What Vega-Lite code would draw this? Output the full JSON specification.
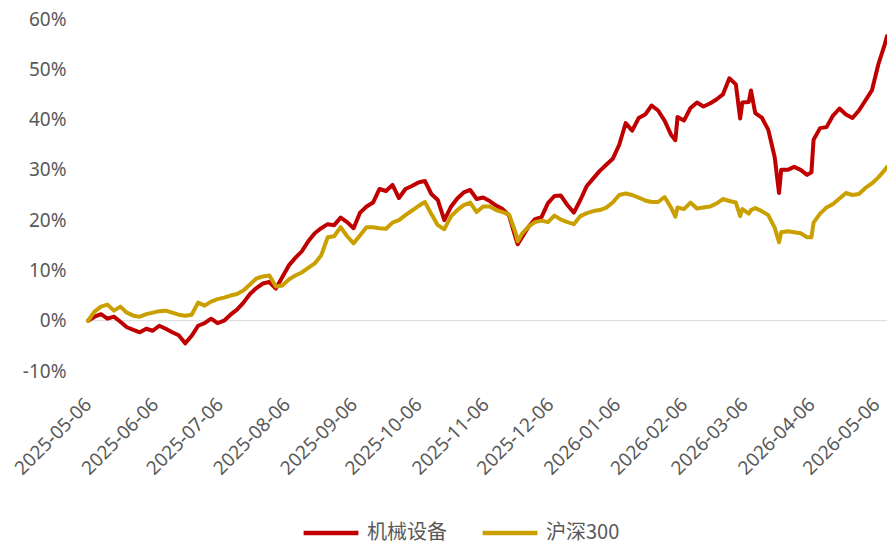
{
  "$schema": "https://vega.github.io/schema/vega-lite/v6.json",
  "width": 799,
  "height": 352,
  "autosize": {"type": "none"},
  "padding": {"left": 88, "top": 19, "right": 0, "bottom": 173},
  "background": "white",
  "config": {"view": {"stroke": null}, "font": "Noto Sans"},
  "data": {"values": [
    {"d":"2025-05-06","机械设备":0,"沪深300":0},
    {"d":"2025-05-09","机械设备":0.8,"沪深300":1.8},
    {"d":"2025-05-12","机械设备":1.3,"沪深300":2.8},
    {"d":"2025-05-15","机械设备":0.4,"沪深300":3.2},
    {"d":"2025-05-18","机械设备":0.8,"沪深300":2.0},
    {"d":"2025-05-21","机械设备":-0.2,"沪深300":2.8},
    {"d":"2025-05-24","机械设备":-1.3,"沪深300":1.6},
    {"d":"2025-05-27","机械设备":-1.8,"沪深300":1.0},
    {"d":"2025-05-30","机械设备":-2.3,"沪深300":0.8},
    {"d":"2025-06-02","机械设备":-1.6,"沪深300":1.3},
    {"d":"2025-06-05","机械设备":-2.0,"沪深300":1.6},
    {"d":"2025-06-08","机械设备":-1.0,"沪深300":1.9},
    {"d":"2025-06-11","机械设备":-1.6,"沪深300":2.0},
    {"d":"2025-06-14","机械设备":-2.3,"沪深300":1.6},
    {"d":"2025-06-17","机械设备":-2.9,"沪深300":1.2},
    {"d":"2025-06-20","机械设备":-4.5,"沪深300":1.0},
    {"d":"2025-06-23","机械设备":-3.0,"沪深300":1.2},
    {"d":"2025-06-26","机械设备":-1.0,"沪深300":3.6},
    {"d":"2025-06-29","机械设备":-0.5,"沪深300":3.0},
    {"d":"2025-07-02","机械设备":0.4,"沪深300":3.8},
    {"d":"2025-07-05","机械设备":-0.5,"沪深300":4.3},
    {"d":"2025-07-08","机械设备":0,"沪深300":4.6},
    {"d":"2025-07-11","机械设备":1.2,"沪深300":5.0},
    {"d":"2025-07-14","机械设备":2.2,"沪深300":5.3},
    {"d":"2025-07-17","机械设备":3.6,"沪深300":6.0},
    {"d":"2025-07-20","机械设备":5.3,"沪深300":7.2},
    {"d":"2025-07-23","机械设备":6.5,"沪深300":8.4},
    {"d":"2025-07-26","机械设备":7.4,"沪深300":8.8},
    {"d":"2025-07-29","机械设备":7.7,"沪深300":9.0},
    {"d":"2025-08-01","机械设备":6.4,"沪深300":6.8},
    {"d":"2025-08-04","机械设备":8.7,"沪深300":7.0},
    {"d":"2025-08-07","机械设备":11.0,"沪深300":8.2},
    {"d":"2025-08-10","机械设备":12.5,"沪深300":9.0},
    {"d":"2025-08-13","机械设备":13.8,"沪深300":9.6},
    {"d":"2025-08-16","机械设备":15.8,"沪深300":10.5},
    {"d":"2025-08-19","机械设备":17.4,"沪深300":11.4},
    {"d":"2025-08-22","机械设备":18.4,"沪深300":13.0},
    {"d":"2025-08-25","机械设备":19.2,"沪深300":16.6},
    {"d":"2025-08-28","机械设备":19.0,"沪深300":16.8},
    {"d":"2025-08-31","机械设备":20.5,"沪深300":18.6},
    {"d":"2025-09-03","机械设备":19.6,"沪深300":16.8},
    {"d":"2025-09-06","机械设备":18.4,"沪深300":15.4},
    {"d":"2025-09-09","机械设备":21.5,"沪深300":17.0},
    {"d":"2025-09-12","机械设备":22.7,"沪深300":18.6},
    {"d":"2025-09-15","机械设备":23.5,"沪深300":18.6},
    {"d":"2025-09-18","机械设备":26.2,"沪深300":18.4},
    {"d":"2025-09-21","机械设备":25.8,"沪深300":18.3},
    {"d":"2025-09-24","机械设备":27.0,"沪深300":19.5},
    {"d":"2025-09-27","机械设备":24.4,"沪深300":20.0},
    {"d":"2025-09-30","机械设备":26.2,"沪深300":21.0},
    {"d":"2025-10-03","机械设备":26.8,"沪深300":21.9},
    {"d":"2025-10-06","机械设备":27.5,"沪深300":22.8},
    {"d":"2025-10-09","机械设备":27.8,"沪深300":23.6},
    {"d":"2025-10-12","机械设备":25.2,"沪深300":21.2},
    {"d":"2025-10-15","机械设备":24.0,"沪深300":19.0},
    {"d":"2025-10-18","机械设备":20.0,"沪深300":18.2},
    {"d":"2025-10-21","机械设备":22.6,"沪深300":20.7},
    {"d":"2025-10-24","机械设备":24.3,"沪深300":22.0},
    {"d":"2025-10-27","机械设备":25.5,"沪深300":23.0},
    {"d":"2025-10-30","机械设备":26.0,"沪深300":23.5},
    {"d":"2025-11-02","机械设备":24.2,"沪深300":21.6},
    {"d":"2025-11-05","机械设备":24.5,"沪深300":22.7},
    {"d":"2025-11-08","机械设备":23.8,"沪深300":22.7},
    {"d":"2025-11-11","机械设备":22.9,"沪深300":22.0},
    {"d":"2025-11-14","机械设备":22.2,"沪深300":21.6},
    {"d":"2025-11-17","机械设备":20.9,"沪深300":21.1},
    {"d":"2025-11-20","机械设备":16.5,"沪深300":17.5},
    {"d":"2025-11-21","机械设备":15.2,"沪深300":15.8},
    {"d":"2025-11-23","机械设备":16.6,"沪深300":17.3},
    {"d":"2025-11-26","机械设备":18.7,"沪深300":18.7},
    {"d":"2025-11-29","机械设备":20.2,"沪深300":19.6},
    {"d":"2025-12-02","机械设备":20.6,"沪深300":19.9},
    {"d":"2025-12-05","机械设备":23.4,"沪深300":19.6},
    {"d":"2025-12-08","机械设备":24.8,"沪深300":20.9},
    {"d":"2025-12-11","机械设备":24.9,"沪深300":20.1},
    {"d":"2025-12-14","机械设备":23.0,"沪深300":19.6},
    {"d":"2025-12-17","机械设备":21.5,"沪深300":19.2},
    {"d":"2025-12-20","机械设备":24.0,"沪深300":20.8},
    {"d":"2025-12-23","机械设备":26.8,"沪深300":21.4},
    {"d":"2025-12-26","机械设备":28.3,"沪深300":21.8},
    {"d":"2025-12-29","机械设备":29.8,"沪深300":22.0},
    {"d":"2026-01-01","机械设备":31.0,"沪深300":22.5},
    {"d":"2026-01-04","机械设备":32.2,"沪深300":23.5},
    {"d":"2026-01-07","机械设备":35.0,"沪深300":25.0},
    {"d":"2026-01-10","机械设备":39.3,"沪深300":25.3},
    {"d":"2026-01-13","机械设备":37.8,"沪深300":25.0},
    {"d":"2026-01-16","机械设备":40.3,"沪深300":24.5},
    {"d":"2026-01-19","机械设备":41.0,"沪深300":23.9},
    {"d":"2026-01-22","机械设备":42.8,"沪深300":23.6},
    {"d":"2026-01-25","机械设备":41.8,"沪深300":23.6},
    {"d":"2026-01-28","机械设备":39.8,"沪深300":24.6},
    {"d":"2026-01-31","机械设备":37.0,"沪深300":22.5},
    {"d":"2026-02-02","机械设备":35.9,"沪深300":20.7},
    {"d":"2026-02-03","机械设备":40.5,"沪深300":22.5},
    {"d":"2026-02-06","机械设备":39.8,"沪深300":22.2},
    {"d":"2026-02-09","机械设备":42.3,"沪深300":23.5},
    {"d":"2026-02-12","机械设备":43.4,"沪深300":22.3},
    {"d":"2026-02-15","机械设备":42.6,"沪深300":22.5},
    {"d":"2026-02-18","机械设备":43.2,"沪深300":22.7},
    {"d":"2026-02-21","机械设备":44.0,"沪深300":23.3},
    {"d":"2026-02-24","机械设备":45.0,"沪深300":24.2},
    {"d":"2026-02-27","机械设备":48.2,"沪深300":23.8},
    {"d":"2026-03-02","机械设备":47.0,"沪深300":23.5},
    {"d":"2026-03-04","机械设备":40.2,"沪深300":20.8},
    {"d":"2026-03-05","机械设备":43.4,"沪深300":22.2},
    {"d":"2026-03-08","机械设备":43.5,"沪深300":21.3},
    {"d":"2026-03-09","机械设备":45.8,"沪深300":22.0},
    {"d":"2026-03-11","机械设备":41.3,"沪深300":22.4},
    {"d":"2026-03-14","机械设备":40.4,"沪深300":21.8},
    {"d":"2026-03-17","机械设备":38.0,"沪深300":21.0},
    {"d":"2026-03-20","机械设备":32.5,"沪深300":18.5},
    {"d":"2026-03-22","机械设备":25.4,"沪深300":15.6},
    {"d":"2026-03-23","机械设备":30.0,"沪深300":17.6},
    {"d":"2026-03-26","机械设备":30.0,"沪深300":17.8},
    {"d":"2026-03-29","机械设备":30.6,"沪深300":17.6},
    {"d":"2026-04-01","机械设备":30.0,"沪深300":17.4},
    {"d":"2026-04-04","机械设备":29.0,"沪深300":16.6},
    {"d":"2026-04-06","机械设备":29.5,"沪深300":16.6},
    {"d":"2026-04-07","机械设备":36.0,"沪深300":19.5},
    {"d":"2026-04-10","机械设备":38.3,"沪深300":21.3},
    {"d":"2026-04-13","机械设备":38.5,"沪深300":22.5},
    {"d":"2026-04-16","机械设备":40.8,"沪深300":23.2},
    {"d":"2026-04-19","机械设备":42.2,"沪深300":24.3},
    {"d":"2026-04-22","机械设备":41.0,"沪深300":25.4},
    {"d":"2026-04-25","机械设备":40.3,"沪深300":25.0},
    {"d":"2026-04-28","机械设备":41.8,"沪深300":25.2},
    {"d":"2026-05-01","机械设备":43.8,"沪深300":26.4},
    {"d":"2026-05-04","机械设备":45.8,"沪深300":27.3},
    {"d":"2026-05-07","机械设备":51.0,"沪深300":28.5},
    {"d":"2026-05-10","机械设备":55.0,"沪深300":30.0},
    {"d":"2026-05-11","机械设备":56.6,"沪深300":30.6}
  ]},
  "layer": [
    {
      "data": {"values": [{}]},
      "mark": {"type": "rule", "color": "#D9D9D9", "strokeWidth": 1},
      "encoding": {"y": {"datum": 0, "type": "quantitative"}}
    },
    {
      "transform": [{"fold": ["机械设备", "沪深300"], "as": ["series", "value"]}],
      "mark": {"type": "line", "strokeWidth": 4, "strokeJoin": "round", "strokeCap": "round"},
      "encoding": {
        "x": {
          "field": "d", "type": "temporal",
          "scale": {"type": "utc", "nice": false,
            "domain": [{"year": 2025, "month": 5, "date": 6, "utc": true}, {"year": 2026, "month": 5, "date": 11, "utc": true}]},
          "axis": {
            "title": null, "grid": false, "domain": false, "ticks": false,
            "values": [
              {"year": 2025, "month": 5, "date": 6, "utc": true},
              {"year": 2025, "month": 6, "date": 6, "utc": true},
              {"year": 2025, "month": 7, "date": 6, "utc": true},
              {"year": 2025, "month": 8, "date": 6, "utc": true},
              {"year": 2025, "month": 9, "date": 6, "utc": true},
              {"year": 2025, "month": 10, "date": 6, "utc": true},
              {"year": 2025, "month": 11, "date": 6, "utc": true},
              {"year": 2025, "month": 12, "date": 6, "utc": true},
              {"year": 2026, "month": 1, "date": 6, "utc": true},
              {"year": 2026, "month": 2, "date": 6, "utc": true},
              {"year": 2026, "month": 3, "date": 6, "utc": true},
              {"year": 2026, "month": 4, "date": 6, "utc": true},
              {"year": 2026, "month": 5, "date": 6, "utc": true}
            ],
            "format": "%Y-%m-%d",
            "labelAngle": -45, "labelAlign": "right", "labelBaseline": "middle",
            "labelPadding": 30, "labelFontSize": 19, "labelColor": "#595959",
            "labelOverlap": false, "labelFlush": false, "labelBound": false
          }
        },
        "y": {
          "field": "value", "type": "quantitative",
          "scale": {"domain": [-10, 60], "nice": false, "zero": false},
          "axis": {
            "title": null, "grid": false, "domain": false, "ticks": false, "tickSize": 0,
            "values": [-10, 0, 10, 20, 30, 40, 50, 60],
            "labelExpr": "datum.value + '%'",
            "labelPadding": 22, "labelFontSize": 19, "labelColor": "#595959"
          }
        },
        "color": {
          "field": "series", "type": "nominal",
          "scale": {"domain": ["机械设备", "沪深300"], "range": ["#C00000", "#C9A000"]},
          "legend": {
            "orient": "none", "legendX": 213, "legendY": 484, "direction": "horizontal",
            "title": null, "symbolType": "stroke", "symbolSize": 3000, "symbolStrokeWidth": 4.5,
            "labelFont": "Noto Sans CJK SC", "labelFontSize": 20, "labelColor": "#595959",
            "labelOffset": 6, "columnPadding": 26
          }
        }
      }
    }
  ]
}
